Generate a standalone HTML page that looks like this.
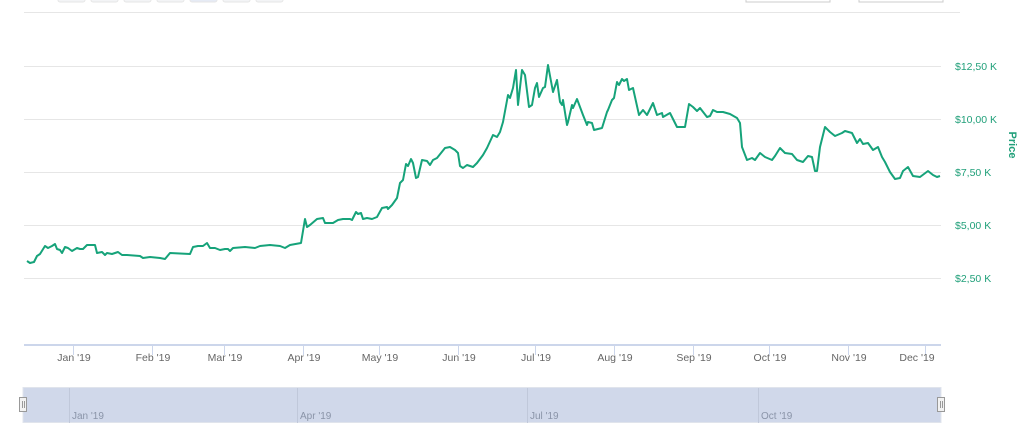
<!DOCTYPE html>
<html><head><meta charset="utf-8"><style>
html,body{margin:0;padding:0;background:#fff;}
svg{display:block;font-family:"Liberation Sans",sans-serif;}
</style></head><body>
<svg width="1023" height="432" viewBox="0 0 1023 432" xmlns="http://www.w3.org/2000/svg">
<g fill="#f3f4f6" stroke="#e6e6e6" stroke-width="1">
<rect x="58" y="-6" width="27" height="8" rx="2"/><rect x="91" y="-6" width="27" height="8" rx="2"/>
<rect x="124" y="-6" width="27" height="8" rx="2"/><rect x="157" y="-6" width="27" height="8" rx="2"/>
<rect x="190" y="-6" width="27" height="8" rx="2" fill="#e6ebf5"/><rect x="223" y="-6" width="27" height="8" rx="2"/>
<rect x="256" y="-6" width="27" height="8" rx="2"/>
<rect x="746" y="-6" width="84" height="8" fill="#fff" stroke="#ccc"/><rect x="859" y="-6" width="84" height="8" fill="#fff" stroke="#ccc"/>
</g>
<g stroke="#e6e6e6" stroke-width="1">
<line x1="24" y1="12.5" x2="960" y2="12.5"/>
<line x1="24" y1="66.5" x2="941" y2="66.5"/>
<line x1="24" y1="119.5" x2="941" y2="119.5"/>
<line x1="24" y1="172.5" x2="941" y2="172.5"/>
<line x1="24" y1="225.5" x2="941" y2="225.5"/>
<line x1="24" y1="278.5" x2="941" y2="278.5"/>
</g>
<line x1="24" y1="345" x2="941" y2="345" stroke="#ccd6eb" stroke-width="2"/>
<g stroke="#ccd6eb" stroke-width="1">
<line x1="73.5" y1="345" x2="73.5" y2="355"/><line x1="152.5" y1="345" x2="152.5" y2="355"/>
<line x1="224.5" y1="345" x2="224.5" y2="355"/><line x1="303.5" y1="345" x2="303.5" y2="355"/>
<line x1="379.5" y1="345" x2="379.5" y2="355"/><line x1="458.5" y1="345" x2="458.5" y2="355"/>
<line x1="535.5" y1="345" x2="535.5" y2="355"/><line x1="614.5" y1="345" x2="614.5" y2="355"/>
<line x1="693.5" y1="345" x2="693.5" y2="355"/><line x1="769.5" y1="345" x2="769.5" y2="355"/>
<line x1="848.5" y1="345" x2="848.5" y2="355"/><line x1="925.5" y1="345" x2="925.5" y2="355"/>
</g>
<g fill="#666" font-size="10.5" text-anchor="middle">
<text x="74" y="361">Jan '19</text><text x="153" y="361">Feb '19</text><text x="225" y="361">Mar '19</text>
<text x="304" y="361">Apr '19</text><text x="380" y="361">May '19</text><text x="459" y="361">Jun '19</text>
<text x="536" y="361">Jul '19</text><text x="615" y="361">Aug '19</text><text x="694" y="361">Sep '19</text>
<text x="770" y="361">Oct '19</text><text x="849" y="361">Nov '19</text><text x="917" y="361">Dec '19</text>
</g>
<g fill="#21a07a" font-size="10.5">
<text x="955" y="70">$12,50 K</text><text x="955" y="123">$10,00 K</text><text x="955" y="176">$7,50 K</text>
<text x="955" y="229">$5,00 K</text><text x="955" y="282">$2,50 K</text>
</g>
<text x="1009" y="145" fill="#21a07a" font-size="11" font-weight="bold" text-anchor="middle" transform="rotate(90 1009 145)">Price</text>
<polyline fill="none" stroke="#16a37a" stroke-width="2" stroke-linejoin="round" points="27,261 30,263 34,262 37,256 40,254 45,246 48,248 52,246 55,244 57,249 60,250 62,253 65,247 68,248 72,251 77,248 80,249 83,249 87,245 95,245 97,253 102,252 105,255 107,253 112,254 118,252 122,255 127,255 140,256 143,258 150,257 160,258 165,259 170,253 190,254 193,247 198,246 203,246 207,243 210,248 215,248 220,250 225,249 228,249 230,251 233,248 245,247 255,248 260,246 270,245 280,246 285,248 290,245 301,243 305,219 307,227 310,225 317,219 323,218 325,223 333,223 338,220 343,219 350,219 352,220 356,212 358,214 361,213 363,219 367,218 372,219 377,217 382,208 387,207 388,209 392,205 397,198 400,183 403,180 406,164 408,166 411,159 413,163 416,178 418,177 422,160 427,161 430,165 433,160 437,158 441,153 445,148 450,147 455,150 458,153 460,166 463,168 467,165 473,167 477,163 483,155 487,148 493,135 497,137 500,132 503,122 508,95 510,98 513,88 516,70 518,105 522,70 525,75 529,107 532,105 535,88 537,83 539,97 543,88 545,87 548,65 553,92 557,80 560,102 562,105 563,100 567,125 568,122 572,105 573,108 577,99 583,115 587,125 588,122 592,123 594,130 602,128 607,112 608,110 612,100 614,98 617,82 619,85 622,79 624,81 627,79 629,90 633,88 639,115 643,110 647,115 653,103 657,115 662,113 663,117 670,113 677,127 682,127 685,127 689,104 693,107 697,111 700,108 707,117 710,116 713,110 717,112 723,112 730,114 737,118 740,123 742,147 747,160 752,158 755,160 760,153 765,157 772,160 775,156 780,148 785,153 792,154 797,160 803,162 808,156 812,157 815,171 817,171 820,147 825,127 830,132 835,136 842,133 845,131 852,133 857,143 860,139 863,144 868,143 873,150 878,147 882,157 885,162 890,172 895,179 900,178 903,171 908,167 913,176 920,177 928,171 933,175 937,177 940,176"/>
<rect x="23" y="387.5" width="918" height="35" fill="#d0d8ea" stroke="#e0e4ec" stroke-width="1"/>
<g stroke="#c0c8da" stroke-width="1">
<line x1="69.5" y1="388" x2="69.5" y2="423"/><line x1="297.5" y1="388" x2="297.5" y2="423"/>
<line x1="527.5" y1="388" x2="527.5" y2="423"/><line x1="758.5" y1="388" x2="758.5" y2="423"/>
</g>
<g fill="#8a94a8" font-size="10">
<text x="72" y="419">Jan '19</text><text x="300" y="419">Apr '19</text><text x="530" y="419">Jul '19</text><text x="761" y="419">Oct '19</text>
</g>
<g fill="#f2f2f2" stroke="#999" stroke-width="1">
<rect x="19.5" y="397.5" width="7" height="14"/><rect x="937.5" y="397.5" width="7" height="14"/>
</g>
<g stroke="#999" stroke-width="1">
<line x1="22.5" y1="401" x2="22.5" y2="408"/><line x1="24.5" y1="401" x2="24.5" y2="408"/>
<line x1="940.5" y1="401" x2="940.5" y2="408"/><line x1="942.5" y1="401" x2="942.5" y2="408"/>
</g>
</svg>
</body></html>
